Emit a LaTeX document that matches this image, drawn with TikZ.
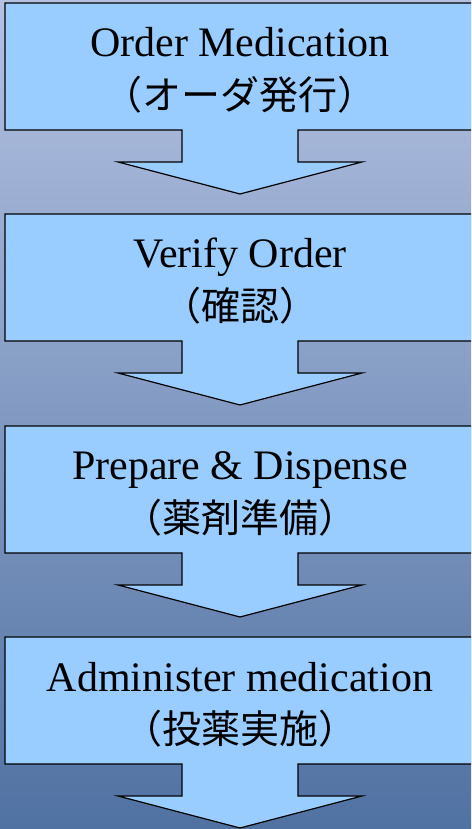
\documentclass[tikz,border=0pt]{standalone}
\usepackage{fontspec}
\setmainfont{Liberation Serif}
\newfontfamily\jp{Noto Sans CJK JP}
\definecolor{boxfill}{HTML}{99CCFF}
\definecolor{bgtop}{HTML}{B4C2E2}
\definecolor{bgbot}{HTML}{5072A2}
\tikzset{
  flowbox/.style={fill=boxfill, draw=black, line width=1.2pt, line join=miter},
  entext/.style={font=\fontsize{42}{42}\selectfont, anchor=base, inner sep=0pt},
  jptext/.style={font=\jp\fontsize{39}{39}\selectfont, anchor=center, inner sep=0pt}
}
\newcommand{\arrowbox}[1]{%
  \path[flowbox] (5,#1) -- (480,#1) -- (480,#1+127) -- (298,#1+127) -- (298,#1+159)
    -- (362,#1+159) -- (240,#1+191) -- (118,#1+159) -- (182,#1+159) -- (182,#1+127)
    -- (5,#1+127) -- cycle;}
\begin{document}
\begin{tikzpicture}[x=1pt,y=1pt]
\useasboundingbox (0,0) rectangle (471,829);
\clip (0,0) rectangle (471,829);
\shade[top color=bgtop, bottom color=bgbot] (0,0) rectangle (471,829);
\begin{scope}[yscale=-1, shift={(0,-829)}]
\arrowbox{3}
\arrowbox{214}
\arrowbox{426}
\arrowbox{637}
\node[entext] (t1) at (240,57) {Order Medication};
\node[jptext] (j1) at (240,95) {（オーダ発行）};
\node[entext] (t2) at (240,268) {Verify Order};
\node[jptext] (j2) at (240,306) {（確認）};
\node[entext] (t3) at (240,480) {Prepare \& Dispense};
\node[jptext] (j3) at (240,518) {（薬剤準備）};
\node[entext] (t4) at (240,692) {Administer medication};
\node[jptext] (j4) at (240,729) {（投薬実施）};
\end{scope}
\end{tikzpicture}
\end{document}
